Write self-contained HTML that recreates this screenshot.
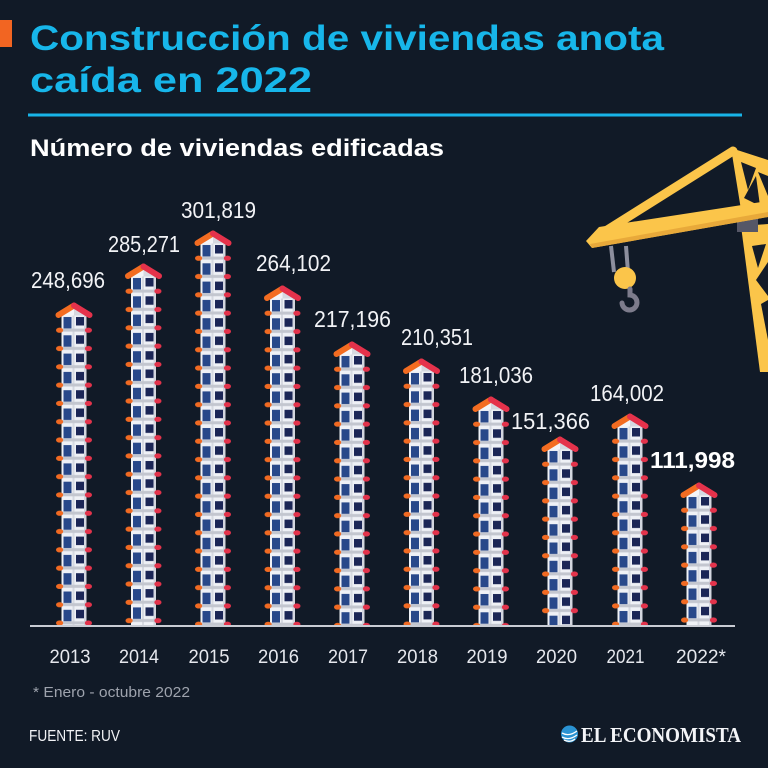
<!DOCTYPE html>
<html><head><meta charset="utf-8"><style>
html,body{margin:0;padding:0;background:#111a27;width:768px;height:768px;overflow:hidden;}
svg{display:block;}
text{font-family:"Liberation Sans",sans-serif;}
</style></head><body>
<svg width="768" height="768" viewBox="0 0 768 768" xmlns="http://www.w3.org/2000/svg">
<defs>
  <pattern id="fl" patternUnits="userSpaceOnUse" x="-18" y="11" width="36" height="18.3">
    <rect x="5.5" y="0" width="25" height="18.3" fill="#eff1f6"/>
    <rect x="16.5" y="0" width="2" height="18.3" fill="#d6d9e1"/>
    <rect x="28" y="0" width="2.5" height="18.3" fill="#d3d6df"/>
    <rect x="7.5" y="2" width="8" height="11.5" fill="#28488a"/>
    <rect x="20" y="2" width="8" height="8.5" fill="#1b2656"/>
    <rect x="4" y="13.6" width="28" height="3" fill="#c3c6cf"/>
    <ellipse cx="3.6" cy="15.2" rx="3.6" ry="2.6" fill="#f16a22"/>
    <ellipse cx="32.4" cy="15.2" rx="3.6" ry="2.6" fill="#e3334b"/>
  </pattern>
  <g id="roof">
    <polygon points="0,3 -13,11.5 13,11.5" fill="#f3f4f8"/>
    <polygon points="0,3 13,11.5 0,11.5" fill="#d5d8e0"/>
    <path d="M-15.5,11 L0,1.5" stroke="#f36c21" stroke-width="6" stroke-linecap="round" fill="none"/>
    <path d="M0,1.5 L15.5,11" stroke="#e5324b" stroke-width="6" stroke-linecap="round" fill="none"/>
  </g>
</defs>

<rect width="768" height="768" fill="#111a27"/>

<!-- header -->
<rect x="0" y="20" width="12" height="27" fill="#f26522"/>
<text x="30" y="50" font-size="35" font-weight="bold" fill="#17b6ea" textLength="634" lengthAdjust="spacingAndGlyphs">Construcción de viviendas anota</text>
<text x="30" y="92" font-size="35" font-weight="bold" fill="#17b6ea" textLength="282" lengthAdjust="spacingAndGlyphs">caída en 2022</text>
<rect x="28" y="113.5" width="714" height="3" fill="#18b4e8"/>
<text x="30" y="156" font-size="24" font-weight="bold" fill="#ffffff" textLength="414" lengthAdjust="spacingAndGlyphs">Número de viviendas edificadas</text>

<!-- crane -->
<g>
  <polygon points="731,148 768,160 768,214 742,216" fill="#fbc54a"/>
  <polygon points="741,162 756,168 748,190" fill="#141c28"/>
  <polygon points="758,172 768,176 768,196" fill="#141c28"/>
  <polygon points="744,198 756,176 760,206" fill="#141c28"/>
  <line x1="733" y1="151" x2="604" y2="232" stroke="#fbc54a" stroke-width="9" stroke-linecap="round"/>
  <polygon points="741,226 768,224 768,372 760,372" fill="#fbc54a"/>
  <polygon points="752,246 766,244 758,268" fill="#141c28"/>
  <polygon points="756,280 768,262 768,296" fill="#141c28"/>
  <polygon points="761,304 768,300 768,340" fill="#141c28"/>
  <rect x="737" y="217" width="21" height="15" fill="#565767"/>
  <polygon points="586,241 599,227 768,201 768,217 592,248" fill="#fbc54a"/>
  <polygon points="590,244 768,212 768,217 592,248" fill="#e8a93a"/>
  <line x1="611" y1="246" x2="614" y2="272" stroke="#8d8f9e" stroke-width="4"/>
  <line x1="626" y1="246" x2="628" y2="272" stroke="#8d8f9e" stroke-width="4"/>
  <circle cx="625" cy="278" r="11" fill="#fbc54a"/>
  <path d="M630,289 L630,295 A7.5,7.5 0 1 1 622,303" stroke="#7d7c8c" stroke-width="5" fill="none" stroke-linecap="round"/>
</g>

<!-- bars -->
<g transform="translate(74,304)"><rect x="-18" y="9" width="36" height="313" fill="url(#fl)"/><use href="#roof"/></g>
<g transform="translate(143.5,265)"><rect x="-18" y="9" width="36" height="352" fill="url(#fl)"/><use href="#roof"/></g>
<g transform="translate(213,232)"><rect x="-18" y="9" width="36" height="385" fill="url(#fl)"/><use href="#roof"/></g>
<g transform="translate(282.5,287)"><rect x="-18" y="9" width="36" height="330" fill="url(#fl)"/><use href="#roof"/></g>
<g transform="translate(352,343)"><rect x="-18" y="9" width="36" height="274" fill="url(#fl)"/><use href="#roof"/></g>
<g transform="translate(421.5,360)"><rect x="-18" y="9" width="36" height="257" fill="url(#fl)"/><use href="#roof"/></g>
<g transform="translate(491,398)"><rect x="-18" y="9" width="36" height="219" fill="url(#fl)"/><use href="#roof"/></g>
<g transform="translate(560,438)"><rect x="-18" y="9" width="36" height="179" fill="url(#fl)"/><use href="#roof"/></g>
<g transform="translate(630,415)"><rect x="-18" y="9" width="36" height="202" fill="url(#fl)"/><use href="#roof"/></g>
<g transform="translate(699,484)"><rect x="-18" y="9" width="36" height="133" fill="url(#fl)"/><use href="#roof"/></g>
<rect x="30" y="625" width="705" height="2" fill="#c9ccd4"/>

<!-- value labels -->
<g font-size="23" fill="#f2f3f6">
  <text x="31" y="288" textLength="74" lengthAdjust="spacingAndGlyphs">248,696</text>
  <text x="108" y="252" textLength="72" lengthAdjust="spacingAndGlyphs">285,271</text>
  <text x="181" y="218" textLength="75" lengthAdjust="spacingAndGlyphs">301,819</text>
  <text x="256" y="271" textLength="75" lengthAdjust="spacingAndGlyphs">264,102</text>
  <text x="314" y="327" textLength="77" lengthAdjust="spacingAndGlyphs">217,196</text>
  <text x="401" y="345" textLength="72" lengthAdjust="spacingAndGlyphs">210,351</text>
  <text x="459" y="383" textLength="74" lengthAdjust="spacingAndGlyphs">181,036</text>
  <text x="511" y="429" textLength="79" lengthAdjust="spacingAndGlyphs">151,366</text>
  <text x="590" y="401" textLength="74" lengthAdjust="spacingAndGlyphs">164,002</text>
  <text x="650" y="468" font-weight="bold" fill="#ffffff" textLength="85" lengthAdjust="spacingAndGlyphs">111,998</text>
</g>

<!-- year labels -->
<g font-size="19.5" fill="#e6e8ee" text-anchor="middle">
  <text x="70" y="663" textLength="41" lengthAdjust="spacingAndGlyphs">2013</text>
  <text x="139" y="663" textLength="40" lengthAdjust="spacingAndGlyphs">2014</text>
  <text x="209" y="663" textLength="41" lengthAdjust="spacingAndGlyphs">2015</text>
  <text x="278.5" y="663" textLength="41" lengthAdjust="spacingAndGlyphs">2016</text>
  <text x="348" y="663" textLength="40" lengthAdjust="spacingAndGlyphs">2017</text>
  <text x="417.5" y="663" textLength="41" lengthAdjust="spacingAndGlyphs">2018</text>
  <text x="487" y="663" textLength="41" lengthAdjust="spacingAndGlyphs">2019</text>
  <text x="556.5" y="663" textLength="41" lengthAdjust="spacingAndGlyphs">2020</text>
  <text x="625.5" y="663" textLength="38" lengthAdjust="spacingAndGlyphs">2021</text>
  <text x="701" y="663" textLength="50" lengthAdjust="spacingAndGlyphs">2022*</text>
</g>

<!-- footer -->
<text x="33" y="697" font-size="15" fill="#9ea3ad" textLength="157" lengthAdjust="spacingAndGlyphs">* Enero - octubre 2022</text>
<text x="29" y="741" font-size="16" fill="#f2f3f6" textLength="91" lengthAdjust="spacingAndGlyphs">FUENTE: RUV</text>
<circle cx="569.5" cy="734" r="8.5" fill="#2a93d3"/>
<path d="M562,733 Q569,737 577,731 M562,737 Q569,741 577,735 M564,740 Q570,743 575,739" stroke="#ffffff" stroke-width="1.3" fill="none"/>
<text x="581" y="742" font-size="21" font-weight="bold" fill="#f4f5f8" textLength="160" lengthAdjust="spacingAndGlyphs" style="font-family:'Liberation Serif',serif">EL ECONOMISTA</text>
</svg>
</body></html>
